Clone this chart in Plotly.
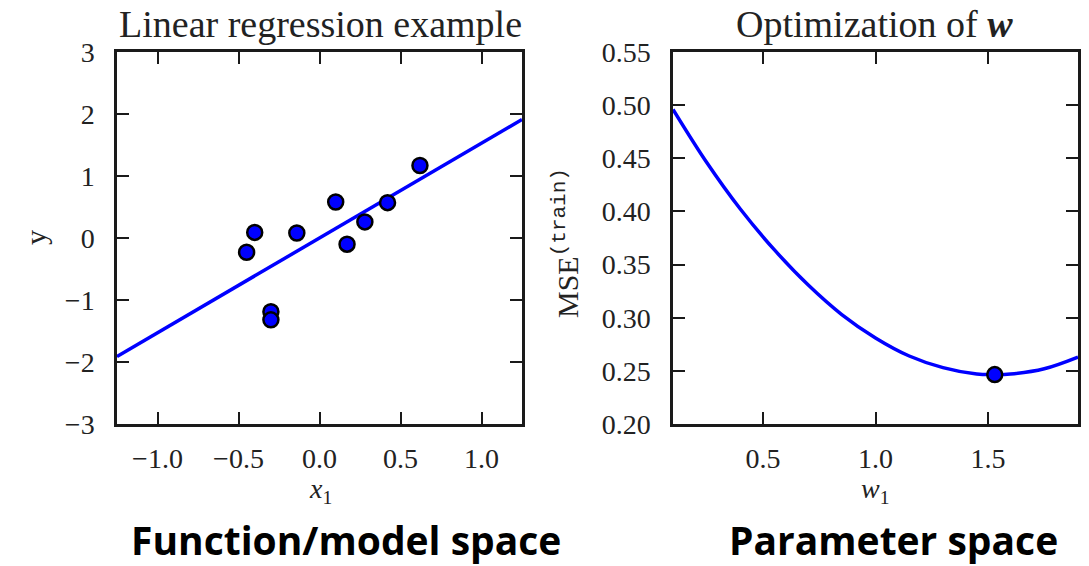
import plotly.graph_objects as go

# ---- data: left panel (function/model space) ----
x_points = [-0.45, -0.40, -0.14, 0.10, 0.17, 0.28, 0.42, 0.62, -0.30, -0.30]
y_points = [-0.23, 0.09, 0.08, 0.58, -0.10, 0.26, 0.57, 1.17, -1.19, -1.32]
line_x = [-1.25, 1.25]
line_y = [-1.91, 1.91]

# ---- data: right panel (parameter space) ----
w_vals = [0.10, 0.25, 0.40, 0.55, 0.70, 0.85, 1.00, 1.15, 1.30, 1.45, 1.53, 1.60, 1.75, 1.90]
mse_vals = [0.496, 0.446, 0.402, 0.364, 0.331, 0.303, 0.281, 0.264, 0.253, 0.247, 0.2465, 0.247, 0.252, 0.263]
w_opt = [1.53]
mse_opt = [0.2465]

left_xticks = [-1.0, -0.5, 0.0, 0.5, 1.0]
left_yticks = [-3, -2, -1, 0, 1, 2, 3]
right_xticks = [0.5, 1.0, 1.5]
right_yticks = [0.20, 0.25, 0.30, 0.35, 0.40, 0.45, 0.50, 0.55]

W, H = 1089, 566
SERIF = "Liberation Serif"
DARK = "#1a1a1a"
BLUE = "#0000ff"

fig = go.Figure()
fig.add_trace(go.Scatter(x=line_x, y=line_y, mode="lines",
                         line=dict(color=BLUE, width=3.5), xaxis="x", yaxis="y",
                         showlegend=False, hoverinfo="skip"))
fig.add_trace(go.Scatter(x=x_points, y=y_points, mode="markers",
                         marker=dict(color=BLUE, size=15, line=dict(color="black", width=2.5)),
                         xaxis="x", yaxis="y", showlegend=False))
fig.add_trace(go.Scatter(x=w_vals, y=mse_vals, mode="lines", line_shape="spline",
                         line=dict(color=BLUE, width=3.5), xaxis="x2", yaxis="y2",
                         showlegend=False, hoverinfo="skip"))
fig.add_trace(go.Scatter(x=w_opt, y=mse_opt, mode="markers",
                         marker=dict(color=BLUE, size=15, line=dict(color="black", width=2.5)),
                         xaxis="x2", yaxis="y2", showlegend=False))

def px_x(p):
    return p / W

def px_y(p):
    return 1 - p / H

axis_common = dict(showgrid=False, zeroline=False, showline=True, linecolor=DARK,
                   linewidth=2.5, mirror="ticks", ticks="inside", ticklen=12,
                   tickwidth=2, tickcolor=DARK, automargin=False,
                   tickfont=dict(family=SERIF, size=28, color="#222"))

fig.update_layout(
    width=W, height=H, margin=dict(l=0, r=0, t=0, b=0, pad=0, autoexpand=False),
    paper_bgcolor="white", plot_bgcolor="white",
    xaxis=dict(axis_common, domain=[px_x(117), px_x(522)], range=[-1.25, 1.25],
               tickvals=left_xticks, tickformat=".1f", anchor="y", ticklabelstandoff=8),
    yaxis=dict(axis_common, domain=[px_y(424), px_y(52)], range=[-3, 3],
               tickvals=left_yticks, tickformat="d", anchor="x", ticklabelstandoff=14),
    xaxis2=dict(axis_common, domain=[px_x(673), px_x(1078)], range=[0.1, 1.9],
                tickvals=right_xticks, tickformat=".1f", anchor="y2", ticklabelstandoff=8),
    yaxis2=dict(axis_common, domain=[px_y(424), px_y(52)], range=[0.20, 0.55],
                tickvals=right_yticks, tickformat=".2f", anchor="x2", ticklabelstandoff=14),
)

def ann(text, x, y, size, family=SERIF, angle=0, color="#222"):
    fig.add_annotation(text=text, x=px_x(x), y=px_y(y), xref="paper", yref="paper",
                       xanchor="center", yanchor="middle", showarrow=False,
                       textangle=angle, font=dict(family=family, size=size, color=color))

ann("Linear regression example", 320, 24, 38)
ann("Optimization of <b><i>w</i></b>", 874, 24, 38)
ann("<i>x</i><sub>1</sub>", 320, 490, 28)
ann("<i>w</i><sub>1</sub>", 875, 490, 28)
ann("y", 35, 238, 30, angle=-90)
ann("MSE<sup><span style=\"font-family:Liberation Mono\">(train)</span></sup>",
    566, 243, 30, angle=-90)
ann("<b>Function/model space</b>", 346, 539, 39, family="Open Sans", color="black")
ann("<b>Parameter space</b>", 893, 539, 39, family="Open Sans", color="black")

fig.write_html("out.html")
